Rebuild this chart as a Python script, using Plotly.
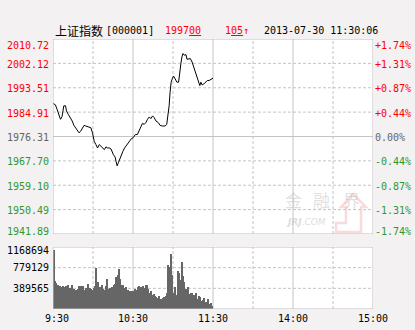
import plotly.graph_objects as go
import numpy as np

# ---------------- data ----------------
# minutes since 9:30 (trading-time axis: 0..120 morning, 120..240 afternoon)
price_minutes = [0, 1.8, 3.0, 4.3, 5.6, 6.8, 8.1, 9.4, 10.1, 11.4,
                 13.2, 14.4, 15.7, 17.0, 17.7, 19.5, 20.8, 22.0, 23.3, 24.6,
                 25.8, 28.4, 29.6, 30.4, 30.9, 32.2, 33.4, 34.7, 35.9, 37.2,
                 38.5, 39.7, 41.0, 42.3, 43.5, 45.3, 46.6, 47.3, 48.1, 49.1,
                 50.6, 52.4, 53.7, 54.9, 56.2, 57.5, 58.7, 60.0, 60.8, 61.8,
                 63.3, 64.6, 65.8, 67.1, 68.4, 69.6, 70.9, 72.2, 73.4, 74.7,
                 75.9, 77.2, 79.0, 80.3, 82.0, 84.1, 85.3, 86.1, 87.1, 87.8,
                 88.6, 89.6, 90.4, 91.6, 92.9, 94.2, 94.9, 95.9, 96.7, 97.5,
                 98.5, 99.7, 100.5, 101.8, 103.0, 104.3, 105.6, 106.8, 108.1, 108.9,
                 110.1, 110.9, 111.9, 113.2, 114.4, 115.7, 117.0, 118.2, 120.0]
price_values = [1987.97, 1987.49, 1985.95, 1984.16, 1982.38, 1983.33, 1987.14, 1987.14, 1985.35, 1984.16,
                1982.97, 1981.78, 1980.24, 1979.40, 1978.57, 1977.62, 1978.21, 1979.40, 1980.24, 1980.00,
                1979.76, 1979.40, 1977.62, 1975.83, 1974.64, 1973.45, 1972.26, 1973.45, 1972.86, 1972.26,
                1971.67, 1972.62, 1972.26, 1972.26, 1971.91, 1969.88, 1969.05, 1967.51, 1965.96, 1967.15,
                1969.29, 1971.07, 1972.26, 1973.10, 1973.81, 1974.64, 1975.48, 1975.83, 1976.43, 1977.02,
                1977.02, 1978.21, 1979.40, 1980.95, 1980.59, 1981.19, 1982.38, 1983.21, 1982.62, 1983.57,
                1982.97, 1981.78, 1981.19, 1980.24, 1980.00, 1980.00, 1980.59, 1983.57, 1987.14, 1991.90,
                1995.47, 1996.89, 1997.61, 1996.66, 1995.47, 1995.47, 1999.04, 2002.01, 2004.39, 2005.58,
                2004.99, 2005.22, 2003.56, 2003.56, 2003.80, 2002.61, 2000.82, 1999.04, 1997.85, 1996.06,
                1994.28, 1995.47, 1994.51, 1994.87, 1995.47, 1996.06, 1996.06, 1996.42, 1996.89]

volume_values = [1120, 520, 490, 460, 420, 440, 410, 440, 420, 430,
                 400, 450, 400, 390, 460, 380, 360, 350, 380, 430,
                 440, 430, 440, 360, 400, 350, 480, 400, 380, 360,
                 390, 430, 770, 500, 330, 420, 450, 380, 350, 430,
                 560, 380, 400, 370, 420, 460, 470, 600, 640, 760,
                 560, 450, 460, 390, 420, 340, 350, 330, 330, 330,
                 330, 380, 360, 420, 440, 420, 410, 430, 400, 450,
                 460, 380, 300, 330, 270, 290, 250, 220, 200, 240,
                 190, 180, 210, 230, 250, 300, 830, 800, 1040, 650,
                 300, 420, 260, 720, 680, 540, 880, 620, 500, 380,
                 330, 420, 280, 300, 310, 270, 250, 310, 190, 250,
                 220, 160, 170, 210, 140, 130, 180, 90, 110, 60]
volume_values = [v * 1000 for v in volume_values]

price_ticks = [2010.72, 2002.12, 1993.51, 1984.91, 1976.31, 1967.70, 1959.10, 1950.49, 1941.89]
pct_ticks = ["+1.74%", "+1.31%", "+0.87%", "+0.44%", "0.00%", "-0.44%", "-0.87%", "-1.31%", "-1.74%"]
vol_ticks = [1168694, 779129, 389565]
time_ticks = [0, 60, 120, 180, 240]
time_labels = ["9:30", "10:30", "11:30", "14:00", "15:00"]
prev_close = 1976.31

# ---------------- layout geometry ----------------
W, H = 415, 330
L, R, T, B = 53, 373, 39, 309
MAIN_BOTTOM, VOL_TOP = 234, 247

def pxx(x):
    return (x - L) / (R - L)

def pxy(y):
    return (B - y) / (B - T)

RED = "#ff0000"
GREEN = "#2f982f"
GRAY = "#666666"
GRID = "#c4c4c4"
MONO = "DejaVu Sans Mono"

fig = go.Figure()
fig.add_trace(go.Scatter(x=price_minutes, y=price_values, mode="lines",
                         line=dict(color="black", width=1), xaxis="x", yaxis="y",
                         hoverinfo="skip"))
bar_x = np.arange(len(volume_values)) + 0.5
fig.add_trace(go.Bar(x=bar_x, y=volume_values, width=0.8, marker=dict(color="#666666", line=dict(width=0)),
                     xaxis="x2", yaxis="y2", hoverinfo="skip"))

shapes = []
# main chart grid
for v in price_ticks[1:-1]:
    solid = abs(v - prev_close) < 1e-6
    shapes.append(dict(type="line", xref="x", yref="y", x0=0, x1=240, y0=v, y1=v, layer="below",
                       line=dict(color=GRID, width=1, dash="solid" if solid else "3px,2px")))
for t in [30, 60, 90, 120, 150, 180, 210]:
    solid = t % 60 == 0
    for xr, yr, y0, y1 in [("x", "y", price_ticks[-1], price_ticks[0]), ("x2", "y2", 0, vol_ticks[0])]:
        shapes.append(dict(type="line", xref=xr, yref=yr, x0=t, x1=t, y0=y0, y1=y1, layer="below",
                           line=dict(color=GRID, width=1, dash="solid" if solid else "3px,2px")))
for v in vol_ticks[1:]:
    shapes.append(dict(type="line", xref="x2", yref="y2", x0=0, x1=240, y0=v, y1=v, layer="below",
                       line=dict(color=GRID, width=1, dash="3px,2px")))
# borders
shapes.append(dict(type="rect", xref="x", yref="y", x0=0, x1=240, y0=price_ticks[-1], y1=price_ticks[0],
                   line=dict(color="#bdbdbd", width=1), layer="above"))
shapes.append(dict(type="rect", xref="x2", yref="y2", x0=0, x1=240, y0=0, y1=vol_ticks[0],
                   line=dict(color="#bdbdbd", width=1), layer="above"))
# watermark arrow
arrow = [(353, 194), (366, 207), (361, 207), (361, 232), (336, 232), (336, 223), (346, 223), (346, 207), (341, 207)]
path = "M " + " L ".join(f"{pxx(a):.4f},{pxy(b):.4f}" for a, b in arrow) + " Z"
shapes.append(dict(type="path", xref="paper", yref="paper", path=path, layer="below",
                   line=dict(color="rgba(240,175,175,0.45)", width=2.5), fillcolor="rgba(0,0,0,0)"))

ann = []
n = len(price_ticks)
for i, (v, p) in enumerate(zip(price_ticks, pct_ticks)):
    if v > prev_close + 1e-6:
        c = RED
    elif v < prev_close - 1e-6:
        c = GREEN
    else:
        c = GRAY
    ys = -6 if i == 0 else (3 if i == n - 1 else -1)
    ann.append(dict(xref="paper", yref="y", x=0, y=v, text=f"{v:.2f}", xanchor="right", yanchor="middle",
                    xshift=-2, yshift=ys, showarrow=False, font=dict(family=MONO, size=10, color=c)))
    ann.append(dict(xref="paper", yref="y", x=1, y=v, text=p, xanchor="left", yanchor="middle",
                    xshift=0, yshift=ys, showarrow=False, font=dict(family=MONO, size=10, color=c)))
for i, v in enumerate(vol_ticks):
    ys = -3 if i == 0 else 0
    ann.append(dict(xref="paper", yref="y2", x=0, y=v, text=str(v), xanchor="right", yanchor="middle",
                    xshift=-2, yshift=ys, showarrow=False, font=dict(family=MONO, size=10, color="black")))
for t, lab in zip(time_ticks, time_labels):
    ann.append(dict(xref="x2", yref="paper", x=t, y=pxy(318), text=lab, xanchor="center", yanchor="middle",
                    xshift=4 if t == 0 else 0, showarrow=False, font=dict(family=MONO, size=10, color="black")))

# header
hy = pxy(31)
ann.append(dict(xref="paper", yref="paper", x=pxx(53), y=hy, text="上证指数", xanchor="left", yanchor="middle",
                showarrow=False, font=dict(family="Noto Sans CJK SC", size=12, color="black")))
ann.append(dict(xref="paper", yref="paper", x=pxx(104), y=hy, text="[000001]", xanchor="left", yanchor="middle",
                showarrow=False, font=dict(family=MONO, size=10, color="black")))
ann.append(dict(xref="paper", yref="paper", x=pxx(163), y=hy, text="1997<u>00</u>", xanchor="left", yanchor="middle",
                showarrow=False, font=dict(family=MONO, size=10, color=RED)))
ann.append(dict(xref="paper", yref="paper", x=pxx(223), y=hy, text="1<u>05</u>↑", xanchor="left", yanchor="middle",
                showarrow=False, font=dict(family=MONO, size=10, color=RED)))
ann.append(dict(xref="paper", yref="paper", x=pxx(262), y=hy, text="2013-07-30 11:30:06", xanchor="left", yanchor="middle",
                showarrow=False, font=dict(family=MONO, size=10, color="black")))

# watermark text
for ch, cx in zip(["金", "融", "界"], [293, 321, 351]):
    ann.append(dict(xref="paper", yref="paper", x=pxx(cx), y=pxy(199), text=ch, xanchor="center", yanchor="middle",
                    showarrow=False, font=dict(family="Noto Sans CJK SC", size=17, color="rgba(185,185,185,0.45)")))
ann.append(dict(xref="paper", yref="paper", x=pxx(306), y=pxy(222), text="<i><b>JRJ</b>.COM</i>", xanchor="center",
                yanchor="middle", showarrow=False, font=dict(family="DejaVu Sans", size=9, color="rgba(185,185,185,0.5)")))

fig.update_layout(
    width=W, height=H,
    margin=dict(l=L, r=W - R, t=T, b=H - B, pad=0),
    paper_bgcolor="#f3f1f1", plot_bgcolor="white",
    showlegend=False, bargap=0,
    shapes=shapes, annotations=ann,
    xaxis=dict(domain=[0, 1], range=[0, 240], showgrid=False, zeroline=False, showticklabels=False,
               ticks="", anchor="y", fixedrange=True),
    yaxis=dict(domain=[pxy(MAIN_BOTTOM), 1], range=[price_ticks[-1], price_ticks[0]], showgrid=False,
               zeroline=False, showticklabels=False, ticks="", anchor="x"),
    xaxis2=dict(domain=[0, 1], range=[0, 240], showgrid=False, zeroline=False, showticklabels=False,
                ticks="", anchor="y2"),
    yaxis2=dict(domain=[0, pxy(VOL_TOP)], range=[0, vol_ticks[0]], showgrid=False, zeroline=False,
                showticklabels=False, ticks="", anchor="x2"),
)
fig.add_shape(type="rect", xref="paper", yref="paper", x0=0, x1=1, y0=pxy(VOL_TOP), y1=pxy(MAIN_BOTTOM),
              fillcolor="#f3f1f1", line=dict(width=0), layer="below")

fig.write_html("out.html", config={"displayModeBar": False})
